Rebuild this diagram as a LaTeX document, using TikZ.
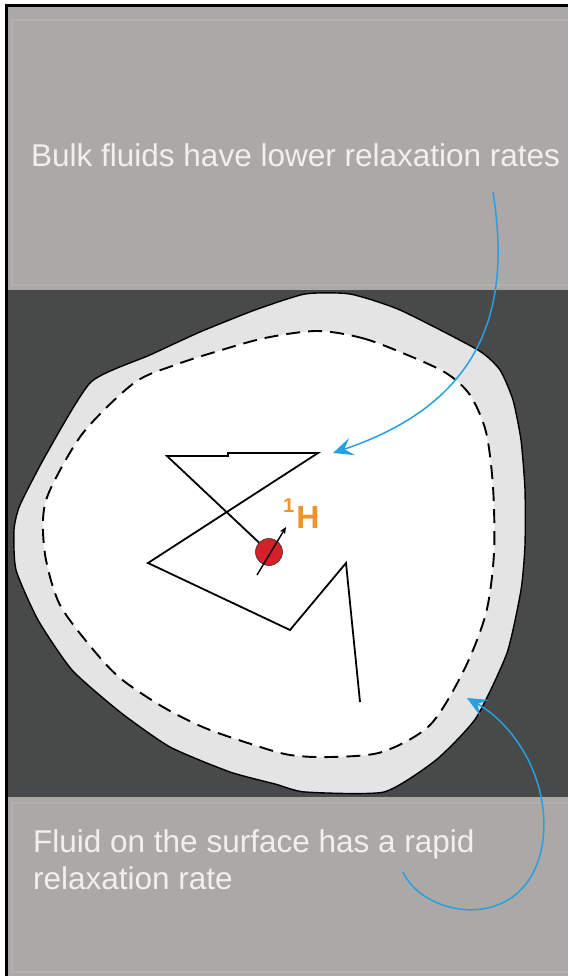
\documentclass[tikz,border=0pt]{standalone}
\usepackage{fontspec}
\setmainfont{Liberation Sans}
\usepackage{tikz}
\usetikzlibrary{arrows.meta}
\definecolor{panelgray}{RGB}{172,168,165}
\definecolor{rockgray}{RGB}{72,74,74}
\definecolor{rimgray}{RGB}{228,228,228}
\definecolor{cueblue}{RGB}{38,160,222}
\definecolor{hydorange}{RGB}{238,148,45}
\definecolor{protonred}{RGB}{212,32,40}
\tikzset{
  panel/.style={fill=panelgray},
  panelrim/.style={draw=white, opacity=0.1, line width=2pt},
  rock/.style={fill=rockgray},
  pore/.style={fill=rimgray, draw=black, line width=1.4pt},
  bulk/.style={fill=white, draw=black, line width=1.9pt, dash pattern=on 14pt off 8pt},
  walk/.style={draw=black, line width=1.8pt, line join=miter},
  proton/.style={circle, fill=protonred, draw=black!80, line width=0.6pt,
                 minimum size=27pt, inner sep=0pt},
  spin/.style={draw=black, line width=1.4pt, -{Stealth[length=7pt, width=6pt]}},
  note/.style={text=white!94!black, font=\fontsize{31.5}{37}\selectfont,
               inner sep=0pt, anchor=base west, align=left},
  iso/.style={text=hydorange, font=\bfseries, inner sep=0pt, anchor=base west},
  cue/.style={draw=cueblue, line width=1.5pt,
              -{Stealth[length=20pt, width=18pt, inset=8pt]}},
}

\begin{document}
\begin{tikzpicture}[x=1pt, y=-1pt]
  \useasboundingbox (0,0) rectangle (568,976);
  \fill[white] (0,0) rectangle (568,976);
  \fill[black] (5,4) rectangle (568,976);

  % grey text panels and the rock between them
  \fill[panel] (8,7) rectangle (568,290);
  \draw[panelrim] (12,20) rectangle (575,285);
  \fill[rock] (8,290) rectangle (568,797);
  \fill[panel] (8,797) rectangle (568,976);
  \draw[panelrim] (12,803) rectangle (575,972);

  % pore wall with its surface layer
  \draw[pore] plot[smooth cycle, tension=0.35] coordinates {
    (305,294) (350,294) (400,310) (478,350) (500,370) (513,400) (521,440)
    (525,490) (525,545) (521,590) (507,653) (476,718) (436,760) (384,792)
    (305,792) (275,784) (230,772) (170,747) (120,712) (72,670) (38,620)
    (16,570) (14,530) (20,505) (47,453) (91,382) (150,355) (200,332) (255,310)};
  \draw[bulk] plot[smooth cycle, tension=0.5] coordinates {
    (317,331) (362,338) (405,354) (446,373) (470,395) (486,432) (493,487)
    (494,553) (486,613) (464,670) (430,725) (382,752) (330,757) (290,755)
    (254,745) (205,728) (163,707) (120,678) (91,647) (60,605) (46,560)
    (43,520) (50,490) (83,433) (134,383) (175,365) (215,352) (265,338)};

  % random walk of the proton
  \node[proton] (h) at (269,552) {};
  \coordinate (w1) at (167,456);
  \coordinate (w2) at (228,456);
  \coordinate (w3) at (228,453);
  \coordinate (w4) at (318,453);
  \coordinate (w5) at (148,563);
  \coordinate (w6) at (290,630);
  \coordinate (w7) at (346,563);
  \coordinate (w8) at (360,702);
  \draw[walk] (h)--(w1)--(w2)--(w3)--(w4)--(w5)--(w6)--(w7)--(w8);
  \coordinate (s0) at (257,575);
  \coordinate (s1) at (286,527);
  \draw[spin] (s0)--(s1);
  \node[iso] (hlbl) at (283,528)
    {\raisebox{16pt}{\fontsize{20}{20}\selectfont 1}\kern2pt{\fontsize{32}{32}\selectfont H}};

  % captions
  \node[note] (top) at (31,167) {Bulk fluids have lower relaxation rates};
  \node[note] (bot) at (33,889) {Fluid on the surface has a rapid\\relaxation rate};

  % pointers
  \coordinate (bulk-tail) at (493,192);
  \coordinate (bulk-tip) at (333,453);
  \draw[cue] (bulk-tail) .. controls (510,300) and (490,400) .. (bulk-tip);
  \coordinate (surf-tail) at (403,872);
  \coordinate (surf-mid) at (543,840);
  \coordinate (surf-tip) at (467,698);
  \draw[cue] (surf-tail) .. controls (425,920) and (530,935) .. (surf-mid)
    .. controls (550,780) and (515,725) .. (surf-tip);
\end{tikzpicture}
\end{document}
